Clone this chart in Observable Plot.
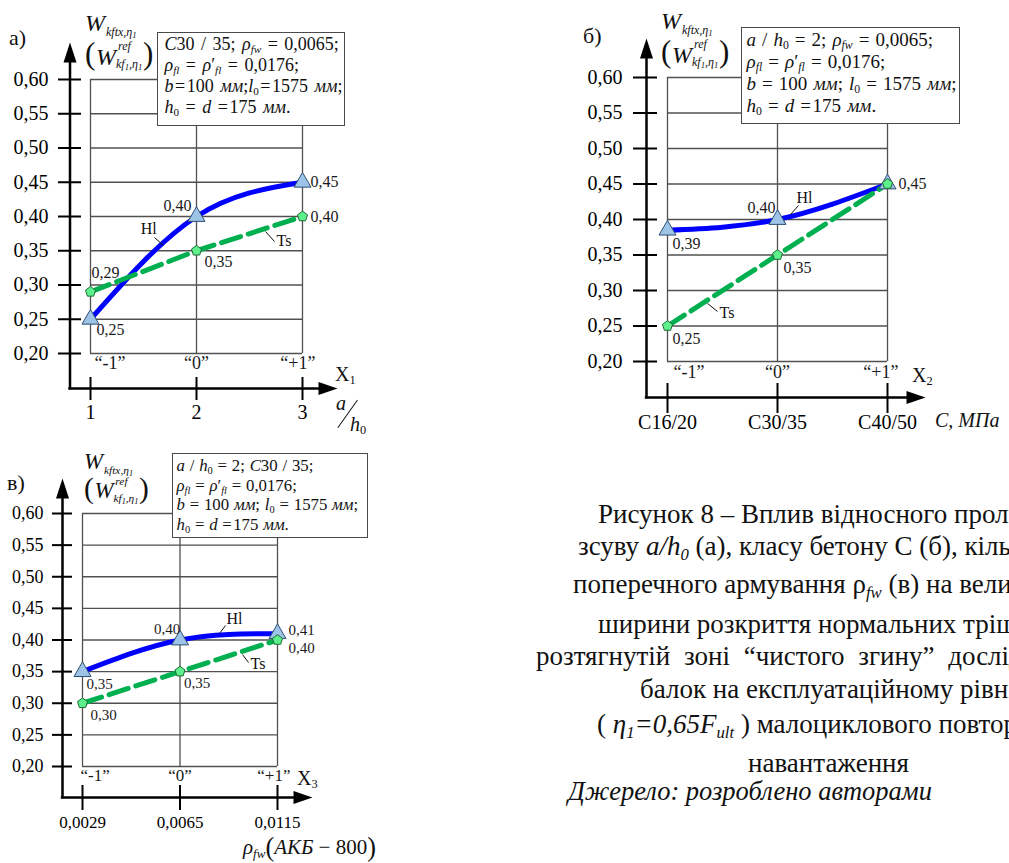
<!DOCTYPE html>
<html lang="uk">
<head>
<meta charset="utf-8">
<script src="https://cdn.jsdelivr.net/npm/d3@7"></script>
<script src="https://cdn.jsdelivr.net/npm/@observablehq/plot@0.6"></script>
<style>
  html, body { margin:0; padding:0; background:#fff; overflow:hidden; }
  #root { position:relative; width:1009px; height:863px; overflow:hidden; background:#fff;
          font-family:"Liberation Serif","DejaVu Serif",serif; color:#111; }
  .abs { position:absolute; white-space:nowrap; line-height:1; }
  .box { position:absolute; box-sizing:border-box; border:1.5px solid #4a4a4a; background:#fff; white-space:nowrap; overflow:hidden; }
  sub { font-size:0.62em; vertical-align:-0.28em; line-height:0; }
  .s2 { font-size:0.72em; vertical-align:-0.25em; line-height:0; }
  svg text { font-family:"Liberation Serif","DejaVu Serif",serif; }
</style>
</head>
<body>
<div id="root"></div>
<script>
// ---------------- data ----------------
const yTicks = [0.20, 0.25, 0.30, 0.35, 0.40, 0.45, 0.50, 0.55, 0.60];
const codedLevels = ["“-1”", "“0”", "“+1”"];
const seriesNames = ["Hl", "Ts"];

// (а) relative shear span a/h0
const xLabelsA = ["1", "2", "3"];
const hlA = [0.25, 0.40, 0.45];
const tsA = [0.29, 0.35, 0.40];

// (б) concrete class
const xLabelsB = ["C16/20", "C30/35", "C40/50"];
const hlB = [0.385, 0.40, 0.45];
const tsB = [0.25, 0.35, 0.45];

// (в) transverse reinforcement ratio
const xLabelsC = ["0,0029", "0,0065", "0,0115"];
const hlC = [0.35, 0.40, 0.41];
const tsC = [0.30, 0.35, 0.40];

// series-name annotations (data coordinates: x = level index, y = value)
const notesA = {
  hl: {x: 0.55, y: 0.3825, anchor: "middle", x1: 0.604, y1: 0.3693, x2: 0.689, y2: 0.3577},
  ts: {x: 1.755, y: 0.365, anchor: "start", x1: 1.651, y1: 0.3781, x2: 1.736, y2: 0.3635}
};
const notesB = {
  hl: {x: 1.245, y: 0.431, anchor: "middle", x1: 1.191, y1: 0.4197, x2: 1.118, y2: 0.407},
  ts: {x: 0.473, y: 0.269, anchor: "start", x1: 0.364, y1: 0.2817, x2: 0.455, y2: 0.2704}
};
const notesC = {
  hl: {x: 1.559, y: 0.434, anchor: "middle", x1: 1.467, y1: 0.4229, x2: 1.405, y2: 0.4103},
  ts: {x: 1.723, y: 0.3628, anchor: "start", x1: 1.641, y1: 0.377, x2: 1.703, y2: 0.3644}
};

const captionLines = [
  "Рисунок 8 – Вплив відносного прольоту",
  "зсуву <i>a/h<sub>0</sub></i> (а), класу бетону С (б), кількості",
  "поперечного армування ρ<sub><i>fw</i></sub> (в) на величину",
  "ширини розкриття нормальних тріщин у",
  "розтягнутій зоні “чистого згину” дослідних",
  "балок на експлуатаційному рівні",
  "( <i>η<sub>1</sub>=0,65F<sub>ult</sub></i> ) малоциклового повторного",
  "навантаження"
];
const sourceLine = "Джерело: розроблено авторами";

// ---------------- style ----------------
const FONT = "'Liberation Serif', 'DejaVu Serif', serif";
const GRID = "#505050", BLUE = "#0000ff", GREEN = "#00b050";
const TRI_FILL = "#9dc3e6", TRI_STROKE = "#2e4f73", PEN_FILL = "#5ef08c", PEN_STROKE = "#1d6b33";
const fmt = v => v.toFixed(2).replace(".", ",");
const root = document.getElementById("root");

const arrowUp = {draw(c) { c.moveTo(0, 0); c.lineTo(6.5, 20); c.lineTo(-6.5, 20); c.closePath(); }};
const arrowRight = {draw(c) { c.moveTo(0, 0); c.lineTo(-19, -6.5); c.lineTo(-19, 6.5); c.closePath(); }};
const pentagon = {draw(c, size) {
  const R = Math.sqrt(size / Math.PI);
  for (let k = 0; k < 5; ++k) {
    const a = -Math.PI / 2 + k * 2 * Math.PI / 5;
    const px = R * Math.cos(a), py = R * Math.sin(a);
    if (k) c.lineTo(px, py); else c.moveTo(px, py);
  }
  c.closePath();
}};

const panels = [
  {xLabels: xLabelsA, hl: hlA, ts: tsA, notes: notesA,
   box: [0, 0, 380, 440], grid: [90, 302, 79, 353],
   yAxis: {gap: 20.5, tin: 11.5, tout: 11.5, pad: 10, font: 20, tip: 42},
   xAxis: {gap: 35, up: 11, down: 12, pad: 4, font: 20, tip: 337},
   coded: {dy: 10, dx: [4, 0, 13], font: 18}, valFont: 16,
   hlLab: [[20, 11, "middle"], [-19, -11, "middle"], [8, 0, "start"]],
   tsLab: [[15, -19, "middle"], [22, 11, "middle"], [8, 0, "start"]]},
  {xLabels: xLabelsB, hl: hlB, ts: tsB, notes: notesB,
   box: [550, 0, 459, 440], grid: [667, 887, 77, 361],
   yAxis: {gap: 21, tin: 11, tout: 13, pad: 11, font: 20, tip: 38},
   xAxis: {gap: 36, up: 14, down: 16, pad: 1.5, font: 20, tip: 925},
   coded: {dy: 11, dx: [6, 0, 11], font: 18}, valFont: 16,
   hlLab: [[19, 14, "middle"], [-16, -12, "middle"], [11, 0, "start"]],
   tsLab: [[19, 13, "middle"], [20, 13, "middle"], null]},
  {xLabels: xLabelsC, hl: hlC, ts: tsC, notes: notesC,
   box: [0, 440, 400, 423], grid: [82, 277, 513, 766],
   yAxis: {gap: 20, tin: 10, tout: 10, pad: 9, font: 18, tip: 478},
   xAxis: {gap: 31, up: 12, down: 13, pad: 5, font: 17, tip: 312},
   coded: {dy: 9, dx: [-2, 0, 13], font: 17}, valFont: 15,
   hlLab: [[17, 13, "middle"], [-13, -11, "middle"], [11, -3, "start"]],
   tsLab: [[21, 12, "middle"], [17, 12, "middle"], [11, 8, "start"]]}
];

function drawPanel(p) {
  const [L, T, W, H] = p.box;
  const [gl, gr, gt, gb] = p.grid;
  const idx = p.xLabels.map((_, i) => i);
  const last = idx.length - 1;
  const yMin = d3.min(yTicks), yMax = d3.max(yTicks);
  const hl = p.hl.map((v, i) => ({i, v}));
  const ts = p.ts.map((v, i) => ({i, v}));
  const ya = p.yAxis, xa = p.xAxis;
  const anchors = ["start", "middle", "end"];

  const valueLabels = (rows, offs) => rows.flatMap((d, k) => offs[k] ? [
    Plot.text([d], {x: "i", y: "v", text: r => fmt(r.v), dx: offs[k][0], dy: offs[k][1],
      textAnchor: offs[k][2], fontSize: p.valFont, fill: "#1a1a1a"})
  ] : []);

  const coded = idx.map(i => Plot.text([i], {x: d => d, y: () => yMin, text: d => codedLevels[d],
    dx: p.coded.dx[i], dy: p.coded.dy, textAnchor: anchors[i], lineAnchor: "middle",
    fontSize: p.coded.font, fill: "#1a1a1a"}));

  const notes = ["hl", "ts"].flatMap((key, s) => {
    const n = p.notes[key];
    return [
      Plot.link([n], {x1: "x1", y1: "y1", x2: "x2", y2: "y2", stroke: "#111", strokeWidth: 1}),
      Plot.text([n], {x: "x", y: "y", text: () => seriesNames[s], textAnchor: n.anchor, fontSize: 16, fill: "#111"})
    ];
  });

  const svg = Plot.plot({
    width: W, height: H,
    marginLeft: gl - L, marginRight: L + W - gr, marginTop: gt - T, marginBottom: T + H - gb,
    x: {type: "linear", domain: [0, last]},
    y: {type: "linear", domain: [yMin, yMax]},
    style: {fontFamily: FONT, fontSize: "20px", background: "none", color: "#000", overflow: "visible"},
    marks: [
      Plot.ruleY(yTicks, {x1: 0, x2: last, stroke: GRID, strokeWidth: 1.3}),
      Plot.ruleX(idx, {y1: yMin, y2: yMax, stroke: GRID, strokeWidth: 1.3}),
      // axis lines with arrow heads
      Plot.ruleX([0], {dx: -ya.gap, insetTop: -(gt - ya.tip - 6), insetBottom: -xa.gap - 1.2, stroke: "#000", strokeWidth: 2.5}),
      Plot.dot([{i: 0, v: yMax}], {x: "i", y: "v", dx: -ya.gap, dy: -(gt - ya.tip), symbol: arrowUp, fill: "#000", stroke: "none"}),
      Plot.ruleY([yMin], {dy: xa.gap, insetLeft: -ya.gap - 1.2, insetRight: -(xa.tip - gr - 6), stroke: "#000", strokeWidth: 2.5}),
      Plot.dot([{i: last, v: yMin}], {x: "i", y: "v", dx: xa.tip - gr, dy: xa.gap, symbol: arrowRight, fill: "#000", stroke: "none"}),
      Plot.axisY(yTicks, {anchor: "left", dx: -(ya.gap - ya.tin), tickSize: ya.tin + ya.tout, tickPadding: ya.pad,
        tickFormat: fmt, strokeWidth: 2, fontSize: ya.font, label: null}),
      Plot.axisX(idx, {anchor: "bottom", dy: xa.gap - xa.up, tickSize: xa.up + xa.down, tickPadding: xa.pad,
        tickFormat: i => p.xLabels[i], strokeWidth: 2, fontSize: xa.font, label: null}),
      ...coded,
      Plot.line(hl, {x: "i", y: "v", curve: "natural", stroke: BLUE, strokeWidth: 5}),
      Plot.line(ts, {x: "i", y: "v", stroke: GREEN, strokeWidth: 5, strokeDasharray: "20,8"}),
      Plot.dot(hl, {x: "i", y: "v", symbol: "triangle", r: 6.3, fill: TRI_FILL, stroke: TRI_STROKE, strokeWidth: 1}),
      Plot.dot(ts, {x: "i", y: "v", symbol: pentagon, r: 5.3, fill: PEN_FILL, stroke: PEN_STROKE, strokeWidth: 1}),
      ...valueLabels(hl, p.hlLab),
      ...valueLabels(ts, p.tsLab),
      ...notes
    ]
  });
  svg.style.position = "absolute";
  svg.style.left = L + "px";
  svg.style.top = T + "px";
  root.appendChild(svg);
}
panels.forEach(drawPanel);

// ---------------- text overlays ----------------
function put(html, x, y, size, extra = "") {
  const el = document.createElement("div");
  el.className = "abs";
  el.style.cssText += `left:${x}px;top:${y}px;font-size:${size}px;${extra}`;
  el.innerHTML = html;
  root.appendChild(el);
  return el;
}
function yTitle(x, y, s, l2) {
  put("<i>W</i>", x, y, 24 * s);
  put("<i>kftx,η<span class='s2'>1</span></i>", x + 21 * s, y + 15 * s, 12 * s);
  put("(", x, y + (27 + l2) * s, 31 * s);
  put("<i>W</i>", x + 11 * s, y + (34 + l2) * s, 24 * s);
  put("<i>ref</i>", x + 33 * s, y + (29 + l2) * s, 12 * s);
  put("<i>kf<span class='s2'>1</span>,η<span class='s2'>1</span></i>", x + 31 * s, y + (47 + l2) * s, 12 * s);
  put(")", x + 58 * s, y + (27 + l2) * s, 31 * s);
}
function infoBox(x, y, w, h, font, lh, pad, padL, ws, lines) {
  const el = document.createElement("div");
  el.className = "box";
  el.style.cssText += `left:${x}px;top:${y}px;width:${w}px;height:${h}px;font-size:${font}px;line-height:${lh}px;padding:${pad}px 0 0 ${padL}px;word-spacing:${ws}px;`;
  el.innerHTML = lines.map(l => `<div>${l}</div>`).join("");
  root.appendChild(el);
}
const hs = "&#8202;";
const lnRho = "<i>ρ</i><sub><i>fl</i></sub> = <i>ρ</i>′<sub><i>fl</i></sub> = 0,0176;";
const lnB = `<i>b</i>${hs}=${hs}100 <i>мм</i>;<i>l</i><sub>0</sub>${hs}=${hs}1575 <i>мм</i>;`;
const lnBwide = "<i>b</i> = 100 <i>мм</i>; <i>l</i><sub>0</sub> = 1575 <i>мм</i>;";
const lnH = `<i>h</i><sub>0</sub> = <i>d</i> =${hs}175 <i>мм</i>.`;

// panel letters
put("а)", 9, 27, 22);
put("б)", 583, 25, 22);
put("в)", 7, 472, 22);

// y titles
yTitle(85, 10.8, 1, 0);
yTitle(661, 9, 1, 0);
yTitle(84, 451, 0.95, -3);

// parameter boxes
infoBox(157, 32, 188, 94, 18, 20.8, 1.3, 6.5, 2, ["<i>C</i>30 / 35; <i>ρ</i><sub><i>fw</i></sub> = 0,0065;", lnRho, lnB, lnH]);
infoBox(741, 27, 219, 97, 19, 21.9, 1.3, 4.5, 1.3, ["<i>a</i> / <i>h</i><sub>0</sub> = 2; <i>ρ</i><sub><i>fw</i></sub> = 0,0065;", lnRho, lnBwide, lnH]);
infoBox(172, 453, 196, 85, 16.8, 19.4, 2.4, 3.5, 0.6, ["<i>a</i> / <i>h</i><sub>0</sub> = 2; <i>C</i>30 / 35;", lnRho, lnBwide, lnH]);

// x-axis titles
put("X<sub>1</sub>", 335, 364, 20);
put("X<sub>2</sub>", 912, 365, 20);
put("X<sub>3</sub>", 297, 768, 20);
put("<i>a</i>", 336, 393, 20);
put("", 347.3, 396.8, 1, "width:1.4px;height:34.4px;background:#111;transform:rotate(35.5deg);");
put("<i>h</i><sub>0</sub>", 350, 414, 20);
put("<i>C, МПа</i>", 935, 410, 20);
put("<i>ρ</i><sub><i>fw</i></sub><span style='font-size:1.25em;vertical-align:-0.06em'>(</span><i>АКБ</i> − 800<span style='font-size:1.25em;vertical-align:-0.06em'>)</span>", 243, 835, 21);

// caption
const capX = [598, 578, 573, 598, 536, 640, 597, 748];
const capBase = [523, 555, 593, 633, 665, 698, 733, 772];
const capWS = [0, 0, 0, 0, 7, 0, 0, 0];
captionLines.forEach((t, k) => put(t, capX[k], capBase[k] - 22.5, 27, `word-spacing:${capWS[k]}px;`));
put(`<i>${sourceLine}</i>`, 568, 778, 26.5);
</script>
</body>
</html>
